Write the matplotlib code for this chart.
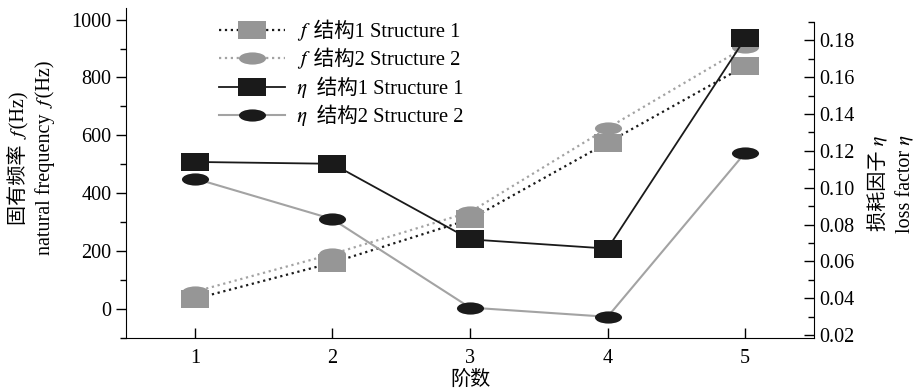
import numpy as numpy
import matplotlib
matplotlib.use('Agg')
import matplotlib.pyplot as plt
from matplotlib.path import Path
from matplotlib.ticker import MultipleLocator, FormatStrFormatter

plt.rcParams['font.family'] = ['Liberation Serif', 'Noto Sans CJK SC', 'STIXGeneral']
plt.rcParams['font.size'] = 14.5

orders = [1, 2, 3, 4, 5]

# natural frequency f (Hz), left axis
freqStructure1 = [35, 160, 310, 575, 840]
freqStructure2 = [60, 190, 335, 625, 905]

# loss factor eta, right axis
lossStructure1 = [0.114, 0.113, 0.072, 0.067, 0.181]
lossStructure2 = [0.105, 0.083, 0.035, 0.030, 0.119]

xTickLabels = ['1', '2', '3', '4', '5']
legendLabels = [
    '\U0001D453 结构1 Structure 1',
    '\U0001D453 结构2 Structure 2',
    '\U0001D702  结构1 Structure 1',
    '\U0001D702  结构2 Structure 2',
]

GREY = '#969696'
GREY_LINE = '#a3a3a3'
BLACK = '#1a1a1a'

# wide rectangle and flat ellipse markers
RECT = Path([(-1.5, -1), (1.5, -1), (1.5, 1), (-1.5, 1), (-1.5, -1)],
            [Path.MOVETO, Path.LINETO, Path.LINETO, Path.LINETO, Path.CLOSEPOLY])
circle = Path.unit_circle()
ELLIPSE = Path(circle.vertices * numpy.array([1.0, 0.45]), circle.codes)


def main():
    fig = plt.figure(figsize=(9.18, 3.91), dpi=100)
    ax = fig.add_axes([126 / 918, 53 / 391, 688 / 918, 330 / 391])
    ax2 = ax.twinx()

    l1, = ax.plot(orders, freqStructure1, linestyle=':', color=BLACK, linewidth=1.6,
                  marker=RECT, markersize=19.5, markerfacecolor=GREY, markeredgewidth=0, zorder=3)
    l2, = ax.plot(orders, freqStructure2, linestyle=':', color=GREY_LINE, linewidth=1.6,
                  marker=ELLIPSE, markersize=19.5, markerfacecolor=GREY, markeredgewidth=0, zorder=2)
    l3, = ax2.plot(orders, lossStructure1, linestyle='-', color=BLACK, linewidth=1.3,
                   marker=RECT, markersize=19.5, markerfacecolor=BLACK, markeredgewidth=0, zorder=3)
    l4, = ax2.plot(orders, lossStructure2, linestyle='-', color=GREY_LINE, linewidth=1.5,
                   marker=ELLIPSE, markersize=19.5, markerfacecolor=BLACK, markeredgewidth=0, zorder=2)

    ax.set_xlim(0.5, 5.5)
    ax.set_ylim(-100, 1040)
    ax2.set_ylim(0.0185, 0.1975)

    ax.set_xticks(orders)
    ax.set_xticklabels(xTickLabels)
    ax.set_yticks([0, 200, 400, 600, 800, 1000])
    ax.yaxis.set_minor_locator(MultipleLocator(100))
    ax2.set_yticks([0.02, 0.04, 0.06, 0.08, 0.10, 0.12, 0.14, 0.16, 0.18])
    ax2.yaxis.set_minor_locator(MultipleLocator(0.01))
    ax2.yaxis.set_major_formatter(FormatStrFormatter('%.2f'))

    ax.tick_params(axis='x', direction='in', length=7, width=1, pad=8)
    ax.tick_params(axis='y', which='major', direction='out', length=7, width=1)
    ax.tick_params(axis='y', which='minor', direction='out', length=4, width=1)
    ax2.tick_params(axis='y', which='major', direction='in', length=7, width=1)
    ax2.tick_params(axis='y', which='minor', direction='in', length=4, width=1)

    for a in (ax, ax2):
        a.spines['top'].set_visible(False)
    ax.spines['right'].set_visible(False)
    ax2.spines['left'].set_visible(False)
    ax2.spines['bottom'].set_visible(False)
    ax2.spines['right'].set_bounds(0.0185, 0.19)

    ax.set_xlabel('阶数', labelpad=2)
    # axis titles placed by hand (two lines each, rotated)
    fig.text(31 / 918, 1 - 158 / 391, '固有频率 \U0001D453(Hz)\nnatural frequency \U0001D453(Hz)',
             rotation=90, ha='center', va='center', multialignment='center', linespacing=1.5)
    fig.text(892 / 918, 1 - 184 / 391, '损耗因子 \U0001D702\nloss factor \U0001D702',
             rotation=90, ha='center', va='center', multialignment='center', linespacing=1.5)

    ax.legend([l1, l2, l3, l4], legendLabels, loc='upper left',
              bbox_to_anchor=(219 / 918, 1 - 21 / 391), bbox_transform=fig.transFigure,
              frameon=False, borderpad=0, borderaxespad=0, handlelength=3.2,
              handletextpad=0.6, labelspacing=0.34, fontsize=14.8)

    fig.savefig('out.png', dpi=100)


if (__name__ == "__main__"):
    main()
